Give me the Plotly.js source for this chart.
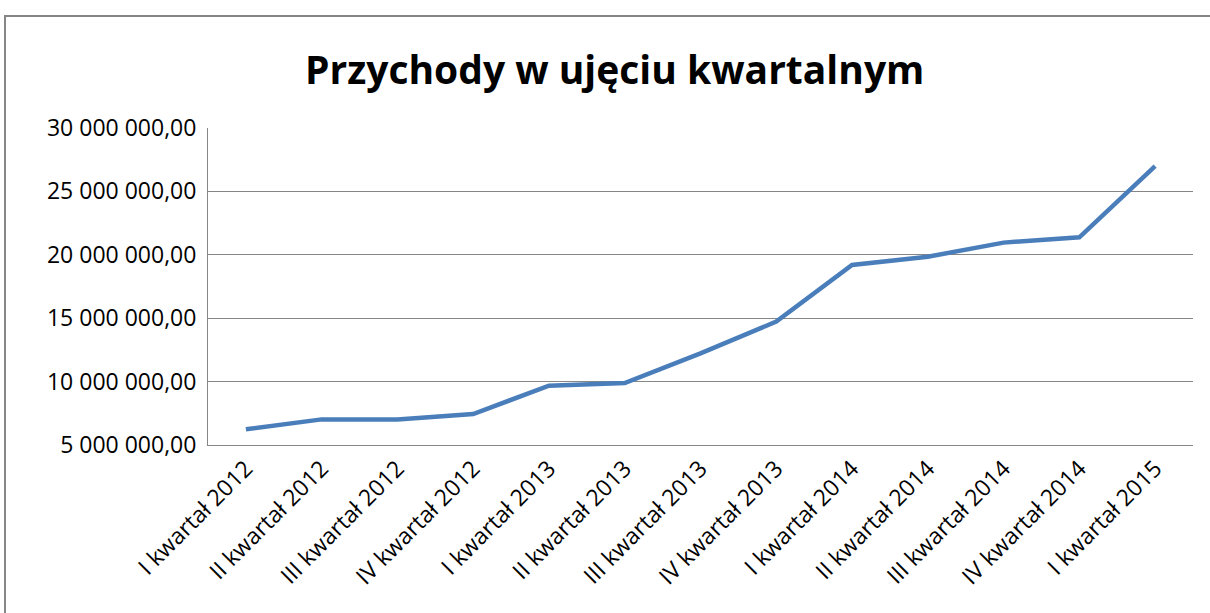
<!DOCTYPE html>
<html>
<head>
<meta charset="utf-8">
<script src="https://cdn.plot.ly/plotly-3.0.1.min.js"></script>
<style>html,body{margin:0;padding:0;background:#fff;}#chart{width:1210px;height:613px;}</style>
</head>
<body>
<div id="chart"></div>
<script>
const categories = ["I kwartał 2012","II kwartał 2012","III kwartał 2012","IV kwartał 2012",
  "I kwartał 2013","II kwartał 2013","III kwartał 2013","IV kwartał 2013",
  "I kwartał 2014","II kwartał 2014","III kwartał 2014","IV kwartał 2014","I kwartał 2015"];
const revenue = [6240000, 7020000, 7020000, 7440000, 9680000, 9890000, 12230000, 14730000,
  19200000, 19850000, 20960000, 21380000, 27000000];
const yTicks = [5000000, 10000000, 15000000, 20000000, 25000000, 30000000];

const trace = {
  x: categories, y: revenue, type: 'scatter', mode: 'lines',
  line: {color: '#4A7EBB', width: 4.5}, hoverinfo: 'x+y'
};
const layout = {
  width: 1210, height: 613,
  margin: {l: 208, r: 17, t: 128, b: 168},
  paper_bgcolor: '#fff', plot_bgcolor: '#fff',
  separators: ', ',
  font: {family: '"Open Sans", sans-serif', color: '#000'},
  title: {text: '<b>Przychody w ujęciu kwartalnym</b>', x: 0.508, xanchor: 'center', y: 0.885, yanchor: 'middle',
    font: {size: 39, family: '"Open Sans", sans-serif', color: '#000'}},
  showlegend: false,
  xaxis: {
    type: 'category', tickangle: -45, tickfont: {size: 23},
    showgrid: false, showline: true, linecolor: '#868686', linewidth: 1,
    ticks: '', range: [-0.5, 12.5], fixedrange: true
  },
  yaxis: {
    range: [5000000, 30000000], tickvals: yTicks, tickformat: ',.2f',
    tickfont: {size: 23}, showgrid: true, gridcolor: '#868686', gridwidth: 1,
    showline: true, linecolor: '#868686', linewidth: 1,
    ticks: 'outside', ticklen: 6, tickcolor: 'rgba(0,0,0,0)',
    zeroline: false, fixedrange: true
  },
  shapes: [{type: 'rect', xref: 'paper', yref: 'paper',
    x0: -0.2061, x1: 1.03, y0: -0.6, y1: 1.3533,
    line: {color: '#868686', width: 2}, fillcolor: 'rgba(0,0,0,0)', layer: 'below'}]
};
Plotly.newPlot('chart', [trace], layout, {displayModeBar: false, staticPlot: true});
</script>
</body>
</html>
